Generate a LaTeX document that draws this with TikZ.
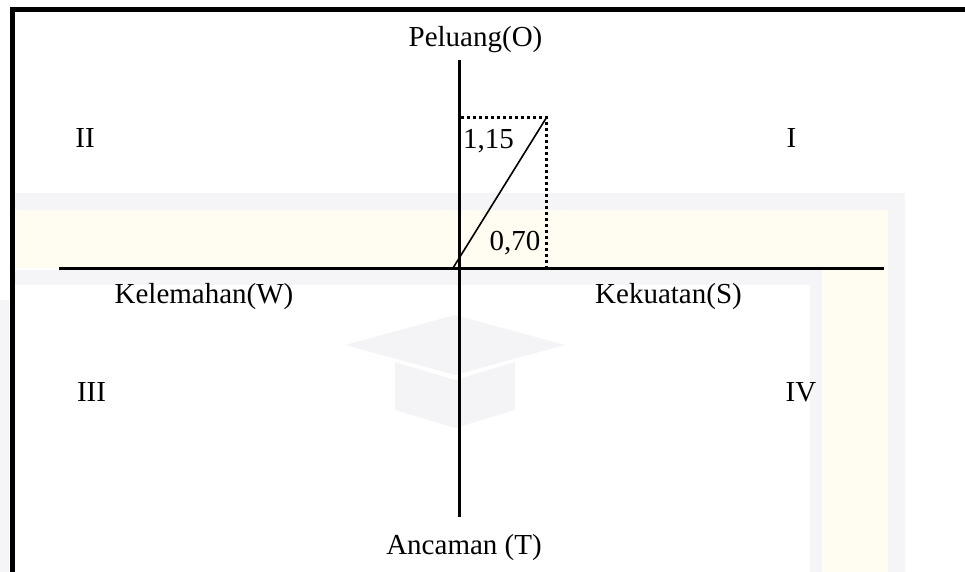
\documentclass[tikz,border=0pt]{standalone}
\usepackage{fontspec}
\setmainfont{Liberation Serif}
\definecolor{wmivory}{RGB}{255,253,242}
\definecolor{wmgray}{RGB}{245,245,248}
\definecolor{wmcap}{RGB}{244,244,246}
\begin{document}
\begin{tikzpicture}[x=1pt,y=-1pt,
  lbl/.style={anchor=base,inner sep=0pt,font=\fontsize{29}{34}\selectfont},
  axis/.style={line width=3pt},
  frame/.style={line width=5pt},
  dotline/.style={line width=3pt,dash pattern=on 3pt off 3pt},
  diag/.style={line width=1.6pt}]
\useasboundingbox (0,0) rectangle (965,572);
% faint watermark bands
\fill[wmgray] (15,193) rectangle (905,210);
\fill[wmgray] (888,193) rectangle (905,572);
\fill[wmivory] (15,210) rectangle (888,268);
\fill[wmivory] (822,210) rectangle (888,572);
\fill[wmgray] (15,270) rectangle (822,285);
\fill[wmgray] (810,270) rectangle (822,572);
\fill[wmgray] (0,300) rectangle (9,572);
% faint mortarboard
\fill[wmcap] (345,345) -- (455,315) -- (565,345) -- (455,375) -- cycle;
\fill[wmcap] (395,362) -- (455,380) -- (515,362) -- (515,410) -- (455,428) -- (395,410) -- cycle;
% frame
\draw[frame] (12,572) -- (12,9.8) -- (965,9.8);
% coordinates
\coordinate (wend) at (59,268.5);
\coordinate (send) at (884,268.5);
\coordinate (otop) at (459.5,60);
\coordinate (tbot) at (459.5,517);
\coordinate (orig) at (453,268);
\coordinate (pt) at (546.5,117.5);
\coordinate (ytick) at (461,117.5);
\coordinate (xtick) at (546.5,268);
% axes
\draw[axis] (wend) -- (send);
\draw[axis] (otop) -- (tbot);
% dotted guides
\draw[dotline] (ytick) -- (pt) -- (xtick);
% diagonal
\draw[diag] (orig) -- (pt);
% labels
\node[lbl] (peluang) at (475.5,47) {Peluang(O)};
\node[lbl] (kelemahan) at (204,303) {Kelemahan(W)};
\node[lbl] (kekuatan) at (668.5,303) {Kekuatan(S)};
\node[lbl] (ancaman) at (464,554) {Ancaman (T)};
\node[lbl] (q2) at (85,148) {II};
\node[lbl] (q1) at (791.5,148) {I};
\node[lbl] (q3) at (91.5,401) {III};
\node[lbl] (q4) at (801,401) {IV};
\node[lbl] (v115) at (488.5,149) {1,15};
\node[lbl] (v070) at (515,250) {0,70};
\end{tikzpicture}
\end{document}
